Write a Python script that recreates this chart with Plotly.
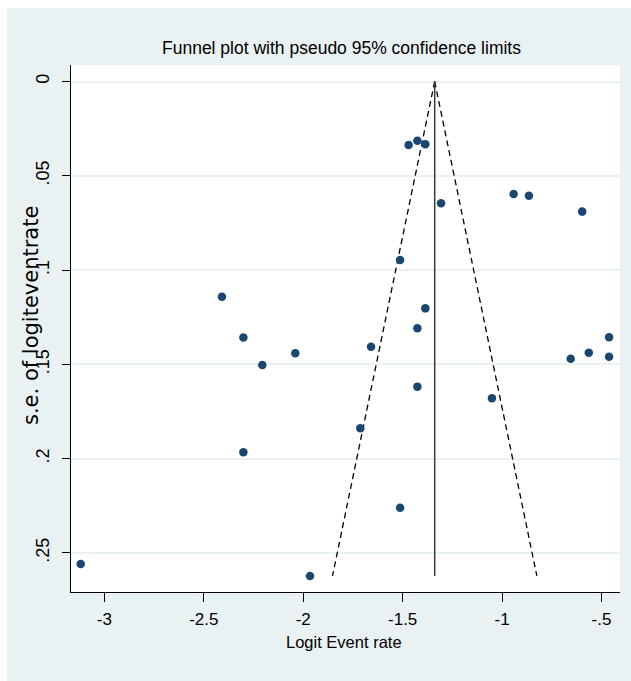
import plotly.graph_objects as go
import numpy as np

# ---- data ----
logit_event_rate = [-1.470, -1.426, -1.386, -1.307, -1.513, -2.409, -1.386, -2.301,
                    -1.426, -0.462, -2.206, -2.040, -1.659, -0.655, -0.564, -0.462,
                    -1.426, -1.051, -1.713, -2.301, -1.513, -1.966, -0.942, -0.865,
                    -0.597, -3.119]
se_logit = [0.0337, 0.0314, 0.0333, 0.0646, 0.0946, 0.1141, 0.1203, 0.1358,
            0.1309, 0.1356, 0.1503, 0.1441, 0.1406, 0.1470, 0.1438, 0.1459,
            0.1618, 0.1680, 0.1839, 0.1966, 0.2260, 0.2622, 0.0597, 0.0606,
            0.0690, 0.2558]
pooled_estimate = -1.339
z95 = 1.96

x_tickvals = [-3, -2.5, -2, -1.5, -1, -0.5]
x_ticktext = ["-3", "-2.5", "-2", "-1.5", "-1", "-.5"]
y_tickvals = [0, 0.05, 0.1, 0.15, 0.2, 0.25]
y_ticktext = ["0", ".05", ".1", ".15", ".2", ".25"]

title_text = "Funnel plot with pseudo 95% confidence limits"
x_title = "Logit Event rate"
y_title = "s.e. of logiteventrate"

# ---- layout geometry (pixels) ----
W, H = 631, 681
L, R, T, B = 71, 11, 65, 89
pw, ph = W - L - R, H - T - B

def px_x(p):
    return (p - L) / pw

def px_y(p):
    return (H - B - p) / ph

BG = "#EAF1F3"
NAVY = "#1A476F"
SANS = "Liberation Sans, Arial, sans-serif"

max_se = max(se_logit)
se_line = np.array([0.0, max_se])

fig = go.Figure()

# pseudo 95% limits
fig.add_trace(go.Scatter(x=pooled_estimate - z95 * se_line, y=se_line, mode="lines",
                         line=dict(color="black", width=1.3, dash="6px,4px"),
                         hoverinfo="skip", showlegend=False))
fig.add_trace(go.Scatter(x=pooled_estimate + z95 * se_line, y=se_line, mode="lines",
                         line=dict(color="black", width=1.3, dash="6px,4px"),
                         hoverinfo="skip", showlegend=False))
# pooled estimate line
fig.add_trace(go.Scatter(x=[pooled_estimate, pooled_estimate], y=se_line, mode="lines",
                         line=dict(color="#3A3A3A", width=1.5),
                         hoverinfo="skip", showlegend=False))
# studies
fig.add_trace(go.Scatter(x=logit_event_rate, y=se_logit, mode="markers",
                         marker=dict(color=NAVY, size=8.5, symbol="circle",
                                     line=dict(width=0)),
                         showlegend=False))

fig.update_layout(
    width=W, height=H,
    margin=dict(l=L, r=R, t=T, b=B, pad=0),
    paper_bgcolor="white",
    plot_bgcolor="white",
    showlegend=False,
    shapes=[
        dict(type="rect", xref="paper", yref="paper", layer="below",
             x0=px_x(7), x1=px_x(W + 5), y0=px_y(H + 5), y1=px_y(8),
             fillcolor=BG, line=dict(width=0)),
        dict(type="rect", xref="paper", yref="paper", layer="below",
             x0=0, x1=1, y0=0, y1=1,
             fillcolor="white", line=dict(width=0)),
    ],
    annotations=[
        dict(text=title_text, xref="paper", yref="paper", x=px_x(341.5), y=px_y(48),
             xanchor="center", yanchor="middle", showarrow=False,
             font=dict(family=SANS, size=17.5, color="black")),
        dict(text=x_title, xref="paper", yref="paper", x=px_x(344), y=px_y(642),
             xanchor="center", yanchor="middle", showarrow=False,
             font=dict(family=SANS, size=16.5, color="black")),
        dict(text=y_title, xref="paper", yref="paper", x=px_x(31), y=px_y(316),
             xanchor="center", yanchor="middle", showarrow=False, textangle=-90,
             font=dict(family="DejaVu Sans", size=21, color="black")),
    ],
)

fig.update_xaxes(
    range=[-3.168, -0.407], tickmode="array", tickvals=x_tickvals, ticktext=x_ticktext,
    showgrid=False, zeroline=False, showline=True, linecolor="black", linewidth=1,
    ticks="outside", ticklen=9, tickwidth=1, tickcolor="black",
    tickfont=dict(family=SANS, size=17, color="black"), ticklabelstandoff=3,
)
fig.update_yaxes(
    range=[0.2707, -0.00875], tickmode="array", tickvals=y_tickvals, ticktext=y_ticktext,
    showgrid=True, gridcolor=BG, gridwidth=2, zeroline=False,
    showline=True, linecolor="black", linewidth=1,
    ticks="outside", ticklen=8, tickwidth=1, tickcolor="black", tickangle=-90,
    tickfont=dict(family=SANS, size=18, color="black"), ticklabelstandoff=6,
)

fig.write_html("out.html")
